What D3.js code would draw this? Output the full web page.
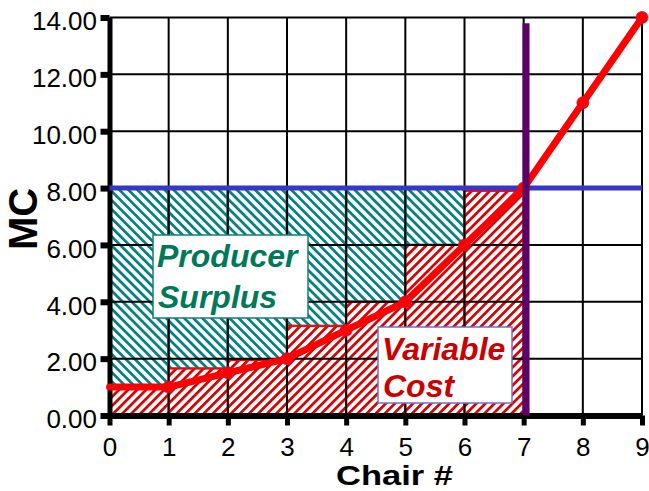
<!DOCTYPE html>
<html>
<head>
<meta charset="utf-8">
<script src="https://cdn.jsdelivr.net/npm/d3@7"></script>
<style>
  html, body { margin: 0; padding: 0; background: #ffffff; }
  svg { display: block; font-family: "Liberation Sans", Arial, sans-serif; }
</style>
</head>
<body>
<svg id="chart" width="649" height="491"></svg>
<script>
// Marginal cost curve, one value per chair count
const curveChairs = [0, 1, 2, 3, 4, 5, 6, 7, 8, 9];
const mcValues    = [1, 1, 1.5, 2, 3, 4, 6, 8, 11, 14];
// Points marked on the curve
const dotChairs = [1, 2, 3, 4, 5, 6, 7, 8, 9];
const dotValues = [1, 1.5, 2, 3, 4, 6, 8, 11, 14];
// Step bars: cost of each chair produced (chairs 1..7)
const barChairs = [1, 2, 3, 4, 5, 6, 7];
const barValues = [1.0, 1.65, 1.95, 3.15, 4.0, 6.0, 7.9];
// Market price and quantity supplied
const price = 8;
const quantity = 7.04;
const quantityTop = 13.8;
// Axis ticks
const xTicks = [0, 1, 2, 3, 4, 5, 6, 7, 8, 9];
const yTicks = [0, 2, 4, 6, 8, 10, 12, 14];

const svg = d3.select("#chart");
const x = d3.scaleLinear().domain([0, 9]).range([109.5, 642]);
const y = d3.scaleLinear().domain([0, 14]).range([415.5, 17.5]);

// Hatch fills
const defs = svg.append("defs");
function hatch(id, color, angle) {
  const s = 6.4;
  const p = defs.append("pattern")
    .attr("id", id)
    .attr("patternUnits", "userSpaceOnUse")
    .attr("width", s).attr("height", s)
    .attr("patternTransform", `rotate(${angle})`);
  p.append("rect").attr("width", s).attr("height", s).attr("fill", "#ffffff");
  p.append("rect").attr("x", 0).attr("y", 0).attr("width", 2.7).attr("height", s).attr("fill", color);
}
hatch("tealHatch", "#008080", -45);
hatch("redHatch", "#d80000", 45);

// Producer surplus blocks (between price and each chair's cost)
svg.append("g").selectAll("rect")
  .data(barChairs.map((c, i) => ({ c, v: barValues[i] })).filter(d => d.v < price - 0.2))
  .join("rect")
  .attr("x", d => x(d.c - 1))
  .attr("y", y(price))
  .attr("width", d => x(d.c) - x(d.c - 1))
  .attr("height", d => y(d.v) - y(price))
  .attr("fill", "url(#tealHatch)")
  .attr("stroke", "#008080")
  .attr("stroke-width", 2.5);

// Variable cost blocks
svg.append("g").selectAll("rect")
  .data(barChairs.map((c, i) => ({ c, v: barValues[i] })))
  .join("rect")
  .attr("x", d => x(d.c - 1))
  .attr("y", d => y(d.v))
  .attr("width", d => x(d.c) - x(d.c - 1))
  .attr("height", d => y(0) - y(d.v))
  .attr("fill", "url(#redHatch)")
  .attr("stroke", "#ff0000")
  .attr("stroke-width", 2);

// Grid
const grid = svg.append("g").attr("stroke", "#000000").attr("stroke-width", 2);
grid.selectAll("line.h")
  .data(yTicks.filter(d => d > 0))
  .join("line").attr("class", "h")
  .attr("x1", x(0)).attr("x2", x(9))
  .attr("y1", d => y(d)).attr("y2", d => y(d));
grid.selectAll("line.v")
  .data(xTicks.filter(d => d > 0))
  .join("line").attr("class", "v")
  .attr("x1", d => x(d)).attr("x2", d => x(d))
  .attr("y1", y(14)).attr("y2", y(0));

// Axes
const yAxis = svg.append("g")
  .attr("transform", `translate(${x(0)},0)`)
  .call(d3.axisLeft(y).tickValues(yTicks).tickFormat(d3.format(".2f")).tickSize(9).tickSizeOuter(0).tickPadding(3.5));
yAxis.select(".domain").attr("stroke", "#000").attr("stroke-width", 5);
yAxis.selectAll(".tick line").attr("stroke", "#000").attr("stroke-width", 6);
yAxis.selectAll(".tick text")
  .attr("fill", "#000").attr("font-size", 26).attr("dy", "0.47em")
  .attr("font-family", "'Liberation Sans', Arial, sans-serif");

const xAxis = svg.append("g")
  .attr("transform", `translate(0,${y(0)})`)
  .call(d3.axisBottom(x).tickValues(xTicks).tickFormat(d3.format("d")).tickSize(10).tickSizeOuter(0).tickPadding(12));
xAxis.select(".domain").attr("stroke", "#000").attr("stroke-width", 6);
xAxis.selectAll(".tick line").attr("stroke", "#000").attr("stroke-width", 5);
xAxis.selectAll(".tick text")
  .attr("fill", "#000").attr("font-size", 26)
  .attr("font-family", "'Liberation Sans', Arial, sans-serif");

// Price line
svg.append("line")
  .attr("x1", x(0)).attr("x2", x(9))
  .attr("y1", y(price)).attr("y2", y(price))
  .attr("stroke", "#3636c8").attr("stroke-width", 5);

// Marginal cost curve
svg.append("path")
  .datum(curveChairs.map((c, i) => [c, mcValues[i]]))
  .attr("d", d3.line().x(d => x(d[0])).y(d => y(d[1])))
  .attr("fill", "none")
  .attr("stroke", "#ff0000")
  .attr("stroke-width", 7)
  .attr("stroke-linecap", "round")
  .attr("stroke-linejoin", "round");
svg.append("g").selectAll("circle")
  .data(dotChairs.map((c, i) => [c, dotValues[i]]))
  .join("circle")
  .attr("cx", d => x(d[0])).attr("cy", d => y(d[1]))
  .attr("r", 6)
  .attr("fill", "#ff0000")
  .attr("stroke", "#d0104a").attr("stroke-width", 0.8);

// Quantity supplied
svg.append("line")
  .attr("x1", x(quantity)).attr("x2", x(quantity))
  .attr("y1", y(quantityTop)).attr("y2", y(0))
  .attr("stroke", "#5c0068").attr("stroke-width", 7);

// Area labels
const ps = svg.append("g");
ps.append("rect").attr("x", 153).attr("y", 235).attr("width", 155).attr("height", 83)
  .attr("fill", "#ffffff").attr("stroke", "#108070").attr("stroke-width", 1.5);
ps.selectAll("text").data(["Producer", "Surplus"]).join("text")
  .attr("x", (d, i) => i ? 158 : 157).attr("y", (d, i) => i ? 308 : 267)
  .attr("font-size", 32).attr("font-weight", "bold").attr("font-style", "italic")
  .attr("fill", "#00785a").text(d => d);

const vc = svg.append("g");
vc.append("rect").attr("x", 378).attr("y", 327).attr("width", 134).attr("height", 76)
  .attr("fill", "#ffffff").attr("stroke", "#7070d0").attr("stroke-width", 1.5);
vc.selectAll("text").data(["Variable", "Cost"]).join("text")
  .attr("x", (d, i) => i ? 383 : 382).attr("y", (d, i) => i ? 397 : 360)
  .attr("font-size", 32).attr("font-weight", "bold").attr("font-style", "italic")
  .attr("fill", "#cc0000").text(d => d);

// Axis titles
svg.append("text")
  .attr("transform", "translate(37,219) rotate(-90)")
  .attr("text-anchor", "middle")
  .attr("font-size", 40).attr("font-weight", "bold")
  .attr("fill", "#000").text("MC");
svg.append("text")
  .attr("x", 394.5).attr("y", 484.5)
  .attr("text-anchor", "middle")
  .attr("font-size", 27).attr("font-weight", "bold")
  .attr("textLength", 117).attr("lengthAdjust", "spacingAndGlyphs")
  .attr("fill", "#000").text("Chair #");
</script>
</body>
</html>
